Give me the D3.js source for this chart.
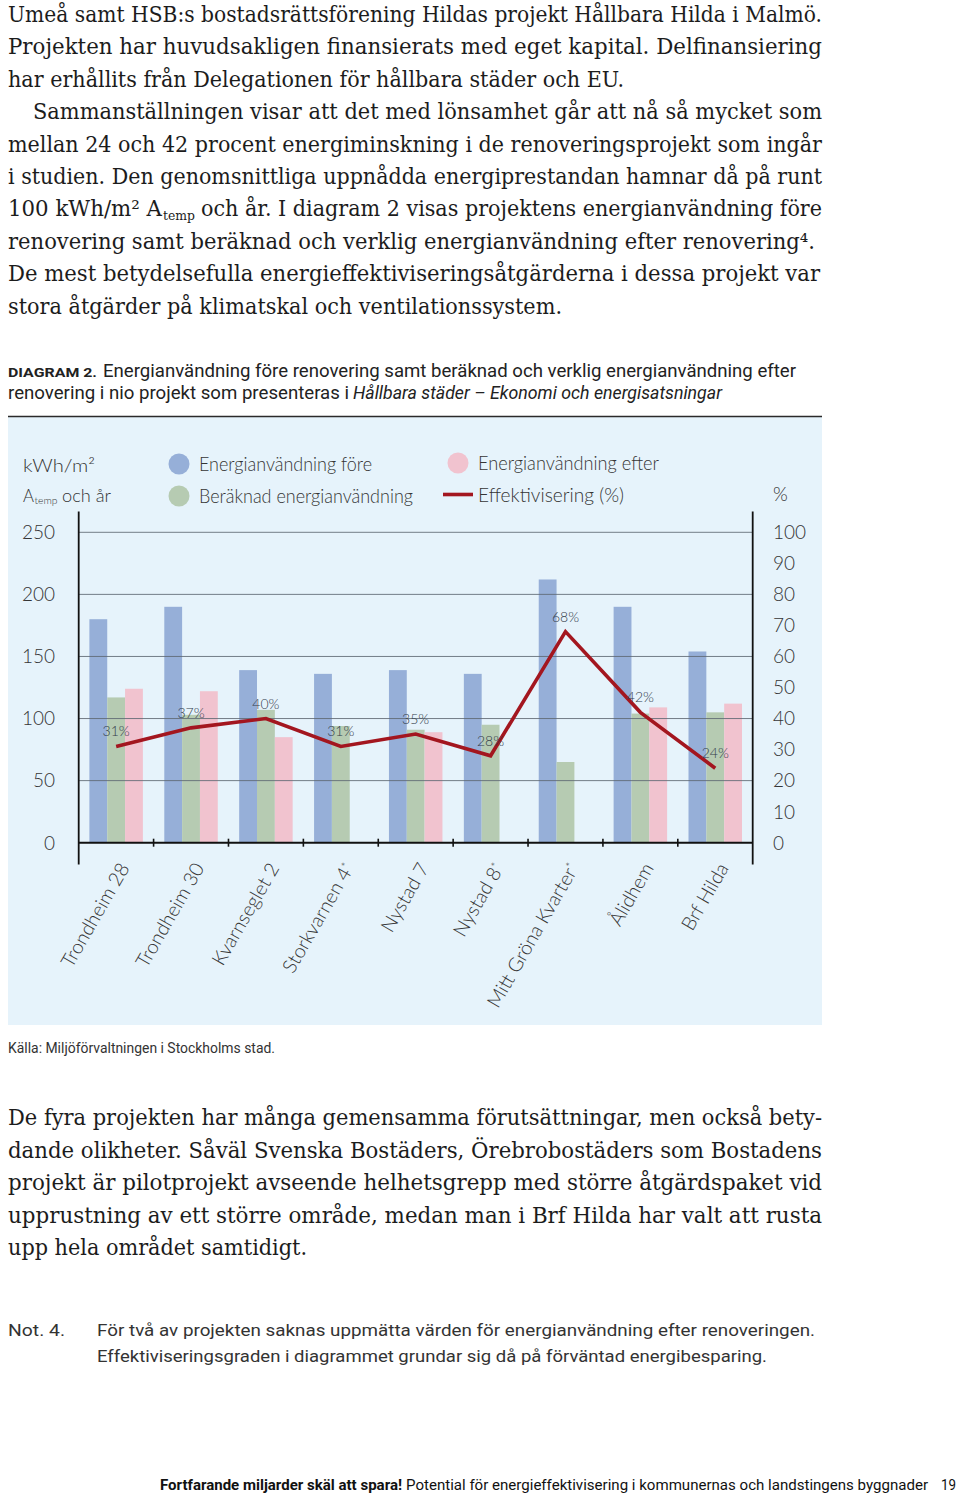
<!DOCTYPE html>
<html><head><meta charset="utf-8">
<script src="https://cdn.jsdelivr.net/npm/d3@7"></script>
<style>body{margin:0;background:#fff}svg{display:block}</style>
</head><body>
<svg id="c" width="960" height="1493"></svg>
<script>
// ---------- data ----------
const categories = ["Trondheim 28","Trondheim 30","Kvarnseglet 2","Storkvarnen 4*","Nystad 7","Nystad 8*","Mitt Gröna Kvarter*","Ålidhem","Brf Hilda"];
const energiFore = [180, 190, 139, 136, 139, 136, 212, 190, 154];
const beraknad   = [117, 103, 107, 94, 91, 95, 65, 104, 105];
const energiEfter= [124, 122, 85, null, 89, null, null, 109, 112];
const effektivisering = [31, 37, 40, 31, 35, 28, 68, 42, 24];
const leftTicks = [0, 50, 100, 150, 200, 250];
const rightTicks = [0, 10, 20, 30, 40, 50, 60, 70, 80, 90, 100];
const seriesKeys = ["fore", "beraknad", "efter"];
const seriesNames = ["Energianvändning före", "Beräknad energianvändning", "Energianvändning efter", "Effektivisering (%)"];

const topParagraph = [
  "Umeå samt HSB:s bostadsrättsförening Hildas projekt Hållbara Hilda i Malmö.",
  "Projekten har huvudsakligen finansierats med eget kapital. Delfinansiering",
  "har erhållits från Delegationen för hållbara städer och EU.",
  "Sammanställningen visar att det med lönsamhet går att nå så mycket som",
  "mellan 24 och 42 procent energiminskning i de renoveringsprojekt som ingår",
  "i studien. Den genomsnittliga uppnådda energiprestandan hamnar då på runt",
  null,
  "renovering samt beräknad och verklig energianvändning efter renovering⁴.",
  "De mest betydelsefulla energieffektiviseringsåtgärderna i dessa projekt var",
  "stora åtgärder på klimatskal och ventilationssystem."
];
const bottomParagraph = [
  "De fyra projekten har många gemensamma förutsättningar, men också bety-",
  "dande olikheter. Såväl Svenska Bostäders, Örebrobostäders som Bostadens",
  "projekt är pilotprojekt avseende helhetsgrepp med större åtgärdspaket vid",
  "upprustning av ett större område, medan man i Brf Hilda har valt att rusta",
  "upp hela området samtidigt."
];

// ---------- drawing ----------
const svg = d3.select("#c");
const SERIF = "'DejaVu Serif', 'Liberation Serif', serif";
const SANS = "Lato, 'Open Sans', sans-serif";
const COND = "Roboto, 'Liberation Sans', sans-serif";
const bodyCol = "#1c1c1c";

function put(x, y, s, o) {
  const t = svg.append("text").attr("x", x).attr("y", y)
    .attr("font-family", o.font).attr("font-size", o.size).attr("fill", o.fill || bodyCol);
  if (o.w) t.attr("textLength", o.w).attr("lengthAdjust", "spacingAndGlyphs");
  if (o.weight) t.attr("font-weight", o.weight);
  if (o.style) t.attr("font-style", o.style);
  if (o.stretch) t.attr("font-stretch", o.stretch);
  return t.text(s);
}

// top paragraph
const topW = [814, 814, 616, 789, 814, 814, null, 807, 812, 554];
topParagraph.forEach((s, i) => {
  const x = i === 3 ? 33 : 8;
  const y = 22 + 32.4 * i;
  if (i === 6) {
    put(8, y, "100 kWh/m² A", {font: SERIF, size: 21.5, w: 154});
    put(163, y + 4, "temp", {font: SERIF, size: 13, w: 32});
    put(201, y, "och år. I diagram 2 visas projektens energianvändning före", {font: SERIF, size: 21.5, w: 621});
  } else put(x, y, s, {font: SERIF, size: 21.5, w: topW[i]});
});

// caption
put(8, 377, "DIAGRAM 2.", {font: COND, size: 13, weight: 700, fill: "#222", w: 89});
put(103, 377, "Energianvändning före renovering samt beräknad och verklig energianvändning efter", {font: COND, size: 17.5, fill: "#222", w: 693});
put(8, 399, "renovering i nio projekt som presenteras i", {font: COND, size: 17.5, fill: "#222", w: 341});
put(353, 399, "Hållbara städer – Ekonomi och energisatsningar", {font: COND, size: 17.5, fill: "#222", style: "italic", w: 369});

// panel
svg.append("rect").attr("x", 8).attr("y", 417).attr("width", 814).attr("height", 608).attr("fill", "#e6f3fb");
svg.append("line").attr("x1", 8).attr("x2", 822).attr("y1", 416.5).attr("y2", 416.5)
  .attr("stroke", "#2a2a2a").attr("stroke-width", 1.6);

// scales
const X0 = 78.7, X1 = 752.7, Y0 = 842.7, YT = 532.3;
const x0 = d3.scaleBand().domain(categories).range([X0, X1]).padding(0);
const x1 = d3.scaleBand().domain(seriesKeys).range([0, x0.bandwidth()]).paddingInner(0).paddingOuter(0.6);
const yL = d3.scaleLinear().domain([0, 250]).range([Y0, YT]);
const yR = d3.scaleLinear().domain([0, 100]).range([Y0, YT]);
const colors = {fore: "#96afd8", beraknad: "#b6cbb2", efter: "#f1c3cf"};
const lineCol = "#a3161f";
const txtCol = "#353535";

// bars
const rows = categories.map((c, i) => ({c, fore: energiFore[i], beraknad: beraknad[i], efter: energiEfter[i]}));
const g = svg.append("g");
rows.forEach(r => {
  seriesKeys.forEach(k => {
    if (r[k] == null) return;
    g.append("rect").attr("x", x0(r.c) + x1(k)).attr("width", x1.bandwidth())
      .attr("y", yL(r[k])).attr("height", Y0 - yL(r[k])).attr("fill", colors[k]);
  });
});

// gridlines (on top of bars)
svg.append("g").selectAll("line").data(leftTicks.filter(d => d > 0)).join("line")
  .attr("x1", X0).attr("x2", X1).attr("y1", d => yL(d)).attr("y2", d => yL(d))
  .attr("stroke", "#5f6973").attr("stroke-width", 1).attr("opacity", 0.85);

// axes
const ax = svg.append("g").attr("stroke", "#111");
ax.append("line").attr("x1", X0).attr("x2", X0).attr("y1", 511.5).attr("y2", 864.5).attr("stroke-width", 1.8);
ax.append("line").attr("x1", X1).attr("x2", X1).attr("y1", 511.5).attr("y2", 864.5).attr("stroke-width", 1.8);
ax.append("line").attr("x1", X0).attr("x2", X1).attr("y1", Y0).attr("y2", Y0).attr("stroke-width", 2);
categories.slice(1).forEach(c => {
  ax.append("line").attr("x1", x0(c)).attr("x2", x0(c)).attr("y1", Y0 - 4).attr("y2", Y0 + 4).attr("stroke-width", 1.6);
});

// left / right tick labels
svg.append("g").selectAll("text").data(leftTicks).join("text")
  .attr("x", 55).attr("y", d => yL(d)).attr("dy", "0.36em").attr("text-anchor", "end")
  .attr("font-family", SANS).attr("font-weight", 300).attr("font-size", 19).attr("fill", txtCol)
  .text(d => d);
svg.append("g").selectAll("text").data(rightTicks).join("text")
  .attr("x", 773).attr("y", d => yR(d)).attr("dy", "0.36em").attr("text-anchor", "start")
  .attr("font-family", SANS).attr("font-weight", 300).attr("font-size", 19).attr("fill", txtCol)
  .text(d => d);

// x labels
categories.forEach(c => {
  const cx = x0(c) + x0.bandwidth() / 2;
  const t = svg.append("text").attr("transform", `translate(${cx + 14},${868}) rotate(-60)`)
    .attr("text-anchor", "end").attr("font-family", SANS).attr("font-weight", 300)
    .attr("font-size", 19.5).attr("fill", txtCol);
  if (c.endsWith("*")) {
    t.append("tspan").text(c.slice(0, -1));
    t.append("tspan").attr("font-size", 12).attr("baseline-shift", "45%").text("*");
  } else t.text(c);
});

// line
const pts = categories.map((c, i) => [x0(c) + x0.bandwidth() / 2, yR(effektivisering[i])]);
svg.append("path").attr("d", d3.line()(pts)).attr("fill", "none").attr("stroke", lineCol)
  .attr("stroke-width", 3.6).attr("stroke-linejoin", "miter");
svg.append("g").selectAll("text").data(effektivisering).join("text")
  .attr("x", (d, i) => pts[i][0]).attr("y", (d, i) => pts[i][1] - 10)
  .attr("text-anchor", "middle").attr("font-family", SANS).attr("font-weight", 300)
  .attr("font-size", 14).attr("fill", "#34404c").text(d => d + "%");

// legend
const leg = svg.append("g").attr("font-family", SANS).attr("font-weight", 300).attr("fill", txtCol);
leg.append("text").attr("x", 23).attr("y", 472).attr("font-size", 18)
  .attr("textLength", 72).attr("lengthAdjust", "spacingAndGlyphs").text("kWh/m²");
leg.append("text").attr("x", 23).attr("y", 502).attr("font-size", 18)
  .attr("textLength", 11).attr("lengthAdjust", "spacingAndGlyphs").text("A");
leg.append("text").attr("x", 34.5).attr("y", 504).attr("font-size", 9)
  .attr("textLength", 23).attr("lengthAdjust", "spacingAndGlyphs").text("temp");
leg.append("text").attr("x", 62).attr("y", 502).attr("font-size", 18)
  .attr("textLength", 49).attr("lengthAdjust", "spacingAndGlyphs").text("och år");

leg.append("circle").attr("cx", 179).attr("cy", 464).attr("r", 10.5).attr("fill", colors.fore);
leg.append("circle").attr("cx", 179).attr("cy", 496).attr("r", 10.5).attr("fill", colors.beraknad);
leg.append("circle").attr("cx", 458).attr("cy", 463).attr("r", 10.5).attr("fill", colors.efter);
leg.append("line").attr("x1", 443).attr("x2", 473).attr("y1", 494.5).attr("y2", 494.5)
  .attr("stroke", lineCol).attr("stroke-width", 3.6);
const legTexts = [[199, 471, 173, seriesNames[0]], [199, 503, 214, seriesNames[1]],
                  [478, 470, 181, seriesNames[2]], [478, 502, 146, seriesNames[3]]];
legTexts.forEach(([x, y, w, s]) => {
  leg.append("text").attr("x", x).attr("y", y).attr("font-size", 19)
    .attr("textLength", w).attr("lengthAdjust", "spacingAndGlyphs").text(s);
});
leg.append("text").attr("x", 773).attr("y", 501).attr("font-size", 19).text("%");

// source
put(8, 1053, "Källa: Miljöförvaltningen i Stockholms stad.", {font: COND, size: 14.5, fill: "#333", w: 267});

// bottom paragraph
const botW = [814, 814, 814, 814, 299];
bottomParagraph.forEach((s, i) => {
  put(8, 1125 + 32.5 * i, s, {font: SERIF, size: 23, stretch: "condensed", w: botW[i]});
});

// note
put(8, 1336, "Not. 4.", {font: COND, size: 17, fill: "#333", w: 57});
put(97, 1336, "För två av projekten saknas uppmätta värden för energianvändning efter renoveringen.", {font: COND, size: 17, fill: "#333", w: 718});
put(97, 1362, "Effektiviseringsgraden i diagrammet grundar sig då på förväntad energibesparing.", {font: COND, size: 17, fill: "#333", w: 670});

// footer
put(160, 1490, "Fortfarande miljarder skäl att spara!", {font: COND, size: 15, weight: 700, fill: "#111", w: 242});
put(406, 1490, "Potential för energieffektivisering i kommunernas och landstingens byggnader", {font: COND, size: 15, fill: "#111", w: 522});
put(941, 1490, "19", {font: COND, size: 15, fill: "#111", w: 15});
</script>
</body></html>
